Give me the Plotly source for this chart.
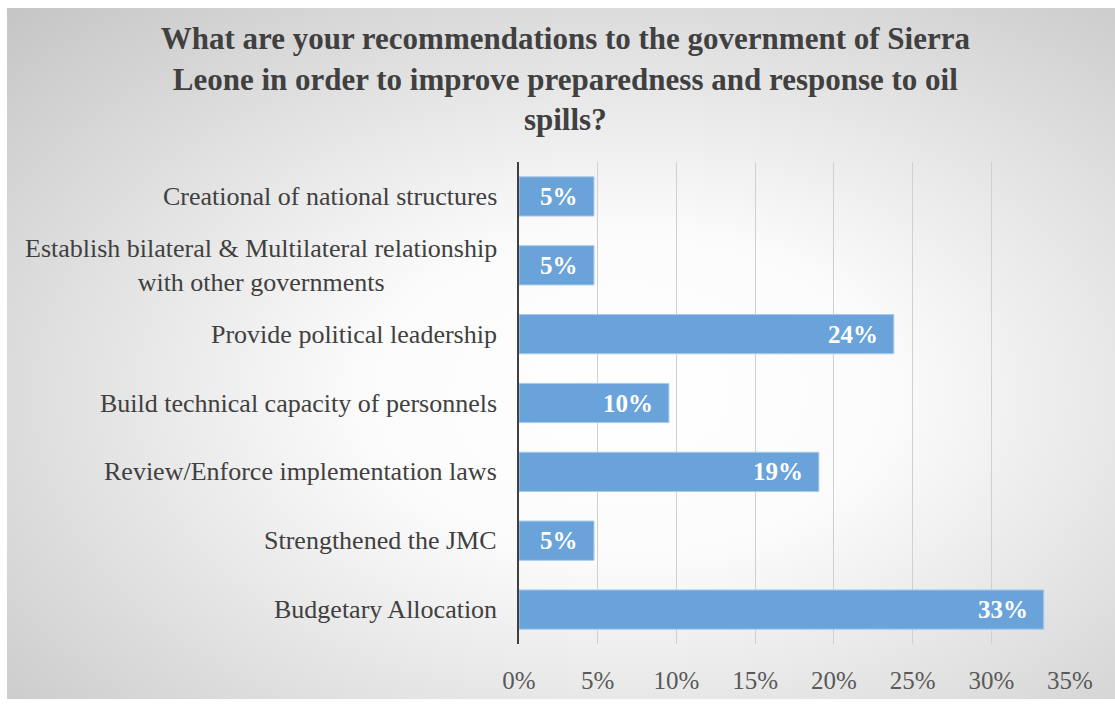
import base64
import plotly.graph_objects as go

# Survey responses (share of respondents, out of 21)
categories = [
    "Creational of national structures",
    "Establish bilateral & Multilateral relationship<br>with other governments",
    "Provide political leadership",
    "Build technical capacity of personnels",
    "Review/Enforce implementation laws",
    "Strengthened the JMC",
    "Budgetary Allocation",
]
shares = [1 / 21, 1 / 21, 5 / 21, 2 / 21, 4 / 21, 1 / 21, 7 / 21]
x_ticks = [0, 0.05, 0.10, 0.15, 0.20, 0.25, 0.30, 0.35]

TEXT = "#404040"
SERIF = "Liberation Serif, Times New Roman, serif"

# radial grey-to-white backdrop
svg = (
    '<svg xmlns="http://www.w3.org/2000/svg" width="1108" height="700" '
    'preserveAspectRatio="none">'
    '<defs><radialGradient id="g" cx="0.56" cy="0.56" r="0.8">'
    '<stop offset="0" stop-color="#ffffff"/>'
    '<stop offset="0.3" stop-color="#fbfbfb"/>'
    '<stop offset="1" stop-color="#c4c4c4"/>'
    '</radialGradient></defs>'
    '<rect width="1108" height="700" fill="url(#g)"/></svg>'
)
bg_src = "data:image/svg+xml;base64," + base64.b64encode(svg.encode()).decode()

fig = go.Figure()
fig.add_trace(
    go.Bar(
        x=shares,
        y=categories,
        orientation="h",
        marker=dict(color="#6aa3d9", line=dict(color="#a9cbeb", width=1)),
        width=0.57,
        hoverinfo="skip",
    )
)

# value labels inside the bar ends
for c, v in zip(categories, shares):
    fig.add_annotation(
        x=v, y=c, xref="x", yref="y",
        text=f"<b>{v:.0%}</b>",
        xanchor="right", xshift=-14, showarrow=False,
        font=dict(family=SERIF, size=25, color="white"),
    )

# category labels, each line centred
for c in categories:
    fig.add_annotation(
        x=0, y=c, xref="paper", yref="y",
        text=c, align="center",
        xanchor="right", xshift=-20, showarrow=False,
        font=dict(family=SERIF, size=26, color=TEXT),
    )

fig.update_layout(
    width=1115,
    height=706,
    margin=dict(l=519, r=45, t=162, b=56),
    paper_bgcolor="white",
    plot_bgcolor="rgba(0,0,0,0)",
    showlegend=False,
    title=dict(
        text="<b>What are your recommendations to the government of Sierra<br>"
             "Leone in order to improve preparedness and response to oil<br>"
             "spills?</b>",
        x=0.507, xanchor="center", y=0.93, yanchor="top",
        font=dict(family=SERIF, size=31, color=TEXT),
    ),
    images=[dict(
        source=bg_src, xref="paper", yref="paper",
        x=-519 / 551 + 7 / 551, y=1 + 162 / 488 - 6 / 488,
        sizex=1108 / 551, sizey=700 / 488,
        xanchor="left", yanchor="top", sizing="stretch", layer="below",
    )],
    xaxis=dict(
        range=[0, 0.35],
        tickvals=x_ticks,
        tickformat=".0%",
        showgrid=True, gridcolor="#d0d0d0", gridwidth=1,
        zeroline=False, showline=False,
        ticks="", ticklabelstandoff=19,
        tickfont=dict(family=SERIF, size=25, color="#595959"),
        fixedrange=True,
    ),
    yaxis=dict(
        categoryorder="array", categoryarray=categories,
        autorange="reversed",
        showticklabels=False, showgrid=False,
        showline=True, linecolor="#404040", linewidth=2,
        ticks="", fixedrange=True,
    ),
)

fig.write_html("out.html")
